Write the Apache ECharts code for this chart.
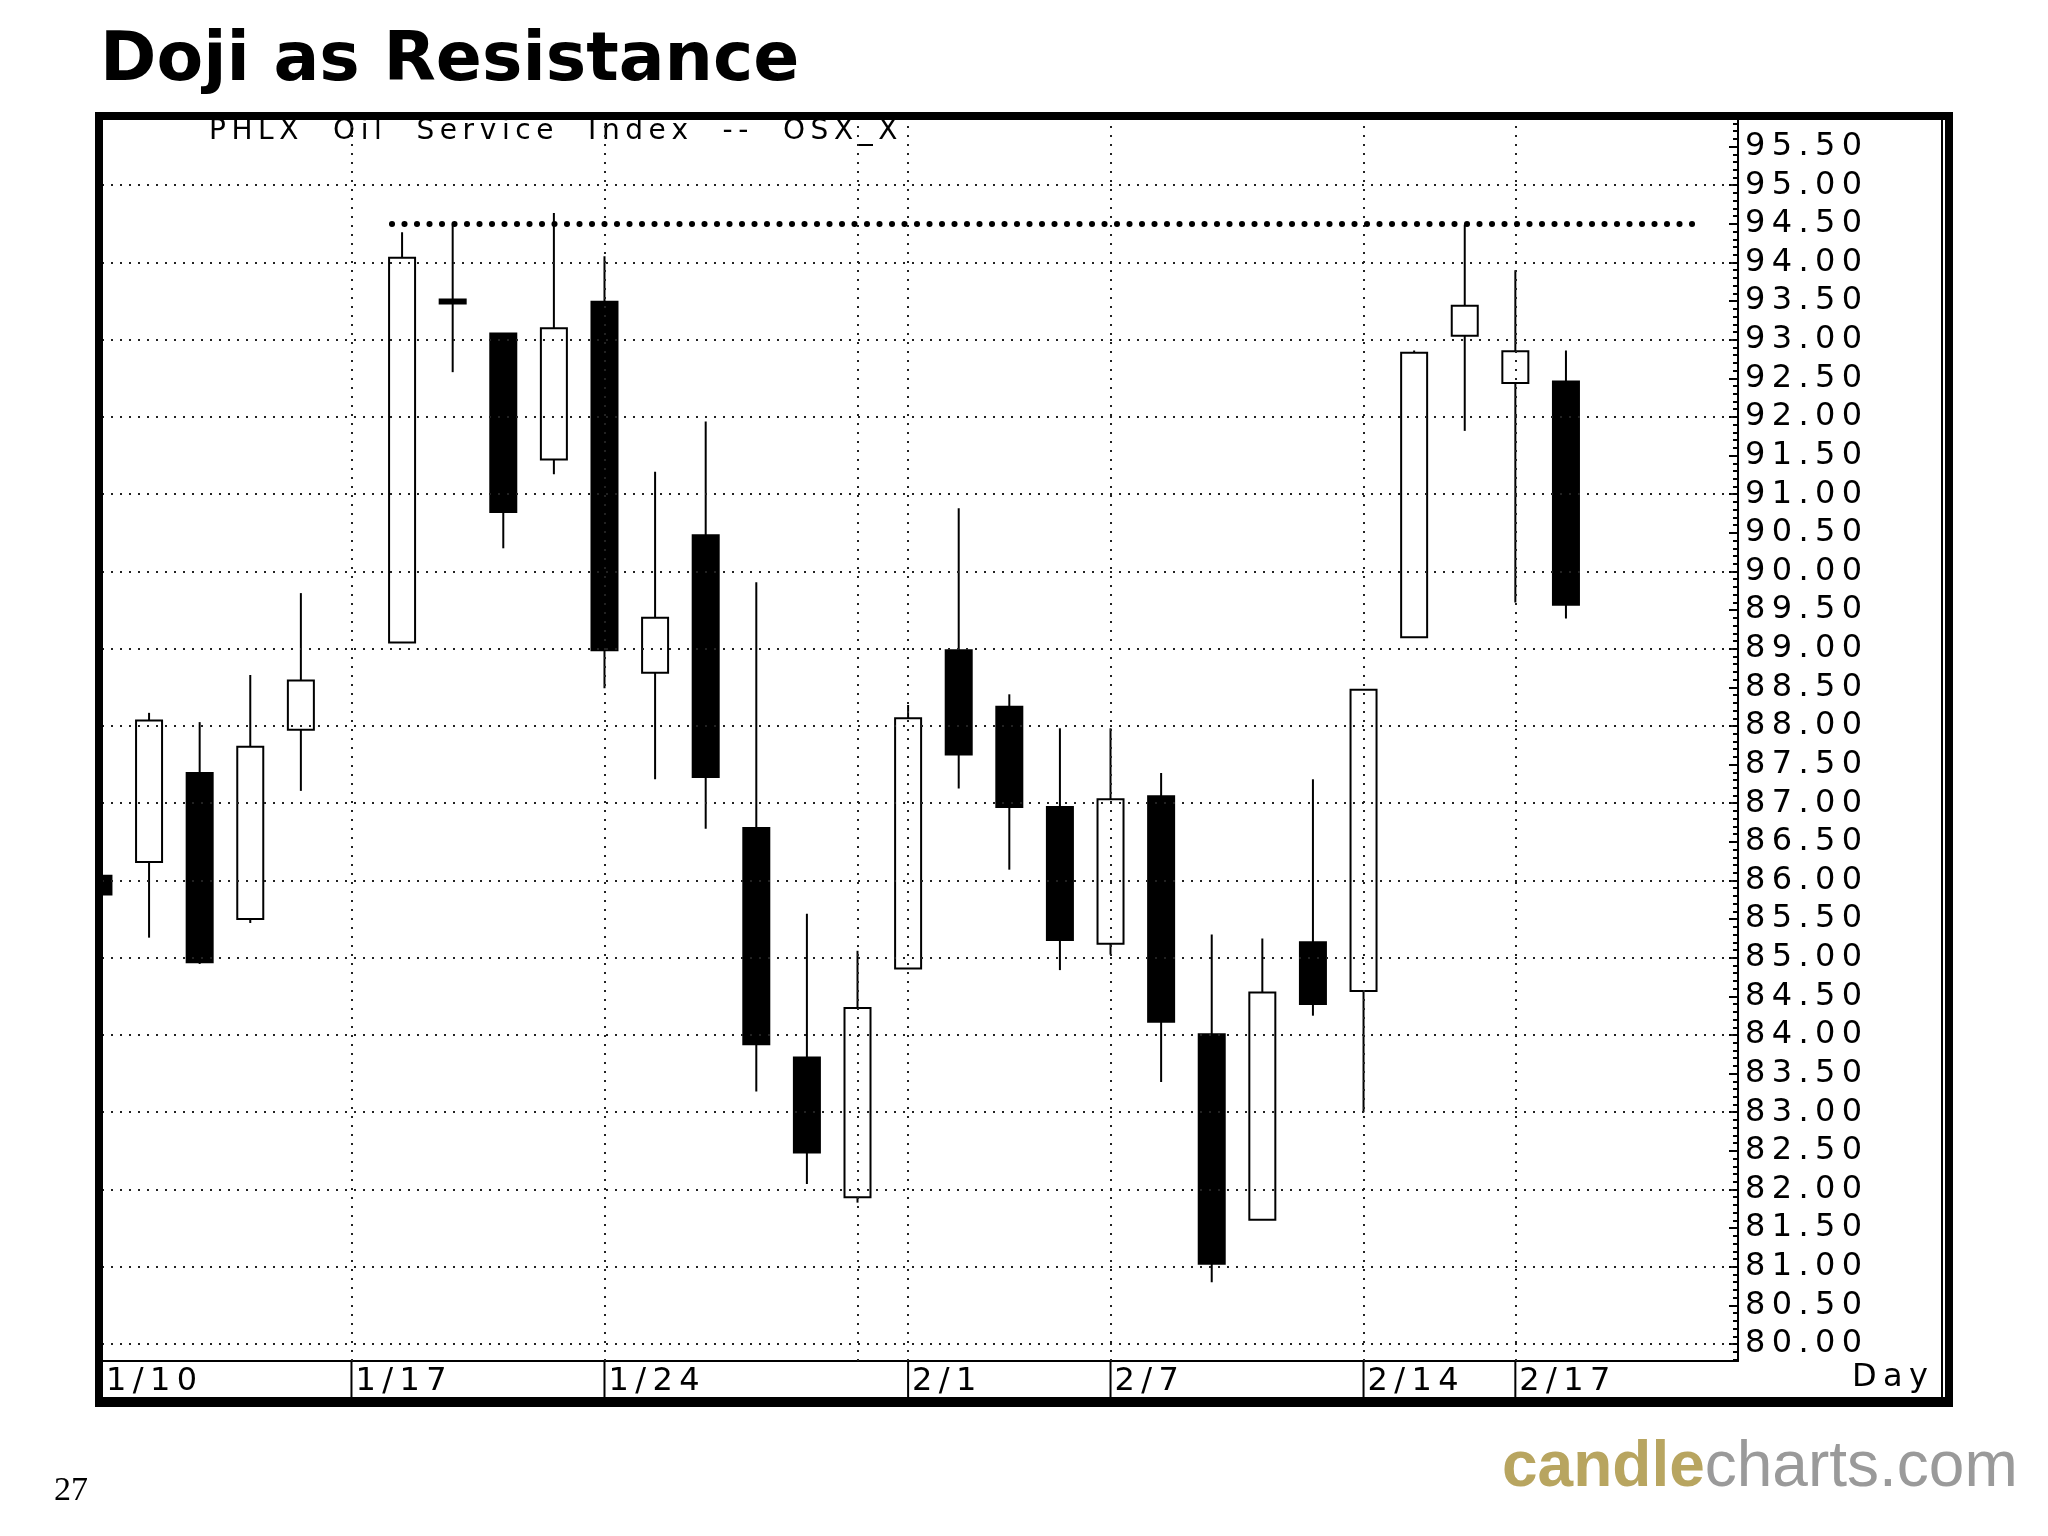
<!DOCTYPE html>
<html><head><meta charset="utf-8">
<script src="https://cdn.jsdelivr.net/npm/echarts@6/dist/echarts.min.js"></script>
<style>html,body{margin:0;padding:0;background:#fff}#c{width:2048px;height:1536px}</style>
</head><body><div id="c"></div>
<script>
// slot index, open, close, low, high
const slots  = [-1,0,1,2,3,5,6,7,8,9,10,11,12,13,14,15,16,17,18,19,20,21,22,23,24,25,26,27,28];
const opens  = [86.06,86.24,87.39,85.50,87.95,89.08,93.52,93.08,91.45,93.49,88.69,90.47,86.68,83.71,81.90,84.86,88.98,88.25,86.95,85.18,87.09,84.01,81.61,85.20,84.57,89.15,93.05,92.44,92.46];
const closes = [85.82,88.07,84.94,87.73,88.59,94.06,93.50,90.77,93.15,88.98,89.40,87.34,83.88,82.48,84.35,88.10,87.63,86.95,85.23,87.05,84.17,81.04,84.55,84.40,88.47,92.83,93.44,92.85,89.57];
const lows   = [85.82,85.26,84.92,85.45,87.16,89.08,92.58,90.30,91.26,88.49,87.31,86.67,83.27,82.07,81.83,84.86,87.19,86.14,84.84,85.04,83.39,80.80,81.61,84.25,83.00,89.15,91.82,89.60,89.39];
const highs  = [86.06,88.17,88.05,88.66,89.72,94.39,94.49,93.08,94.64,94.08,91.29,91.94,89.86,85.57,85.09,88.27,90.82,88.41,87.97,87.97,87.39,85.30,85.25,87.31,88.47,92.86,94.49,93.90,92.86];
const dateLabels = ['1/10','1/17','1/24','2/1','2/7','2/14','2/17'];
const dateSlots  = [-0.93,4,9,15,19,24,27];
const vGridSlots = [4,9,14,15,19,24,27];
const hGridValues = [80,81,82,83,84,85,86,87,88,89,90,91,92,93,94,95];
const resistance = 94.5;
const resistanceFrom = 4.8, resistanceTo = 30.53;
const xMin = -0.93, xMax = 31.4, yMin = 79.78, yMax = 95.87;

const sp = s => s.split('').join('\u2009');
const candleData = slots.map((s,i)=>[s,opens[i],closes[i],lows[i],highs[i]]);
const chart = echarts.init(document.getElementById('c'));
const FONT = 'DejaVu Sans';
chart.setOption({
  animation:false,
  backgroundColor:'#fff',
  grid:{left:102,right:310,top:118,height:1243},
  xAxis:{type:'value',min:xMin,max:xMax,axisLine:{show:true,onZero:false,lineStyle:{color:'#000',width:2}},
    axisTick:{show:false},axisLabel:{show:false},splitLine:{show:false}},
  yAxis:{type:'value',position:'right',min:yMin,max:yMax,splitNumber:32,
    axisLine:{show:true,onZero:false,lineStyle:{color:'#000',width:2}},
    axisTick:{show:true,inside:true,length:9,lineStyle:{color:'#000',width:2}},
    minorTick:{show:true,splitNumber:5,length:5,lineStyle:{color:'#000',width:2}},
    splitLine:{show:false},
    axisLabel:{margin:7,fontFamily:FONT,fontSize:32,color:'#000',
      formatter:v=>{const d=v*2;return (Math.abs(d-Math.round(d))<1e-6 && v>yMin+0.01 && v<yMax-0.01)?sp(v.toFixed(2)):'';}}},
  series:[
    {type:'line',data:[],silent:true,
      markLine:{silent:true,symbol:'none',label:{show:false},animation:false,
        lineStyle:{color:'#222',width:2,type:[2,7]},
        data:hGridValues.map(v=>({yAxis:v})).concat(vGridSlots.map(v=>({xAxis:v})))}},
    {type:'custom',data:candleData,clip:true,
      renderItem:(params,api)=>{
        const x=api.value(0),o=api.value(1),c=api.value(2),l=api.value(3),h=api.value(4);
        const pH=api.coord([x,h]),pL=api.coord([x,l]),pO=api.coord([x,o]),pC=api.coord([x,c]);
        const w=26,up=c>=o;
        const top=Math.min(pO[1],pC[1]),bh=Math.max(Math.abs(pO[1]-pC[1]),4);
        const cs=params.coordSys;
        return {type:'group',clipPath:{type:'rect',shape:{x:cs.x,y:cs.y,width:cs.width,height:cs.height}},children:[
          {type:'line',shape:{x1:pH[0],y1:pH[1],x2:pL[0],y2:pL[1]},style:{stroke:'#000',lineWidth:2}},
          {type:'rect',shape:{x:pO[0]-w/2,y:top,width:w,height:bh},style:{fill:up?'#fff':'#000',stroke:'#000',lineWidth:2}}
        ]};
      },
      markLine:{silent:true,symbol:'none',label:{show:false},
        lineStyle:{color:'#000',width:6,type:[0.1,12.4],cap:'round'},
        data:[[{coord:[resistanceFrom,resistance]},{coord:[resistanceTo,resistance]}]]}},
    {type:'custom',data:dateSlots.map((s,i)=>[s,i]),clip:false,silent:true,
      renderItem:(params,api)=>{
        const p=api.coord([api.value(0),yMin]);
        return {type:'group',children:[
          {type:'line',shape:{x1:p[0],y1:p[1],x2:p[0],y2:p[1]+37},style:{stroke:'#000',lineWidth:2}},
          {type:'text',x:p[0]+4,y:p[1]+21,style:{text:sp(dateLabels[api.value(1)]),fontFamily:FONT,fontSize:32,fill:'#000',verticalAlign:'middle'}}
        ]};
      }}
  ],
  graphic:[
    {type:'text',left:100,top:28,style:{text:'Doji as Resistance',fontFamily:FONT,fontWeight:'bold',fontSize:68,fill:'#000'}},
    {type:'text',left:209,top:118,style:{text:sp('PHLX  Oil  Service  Index  --  OSX_X'),fontFamily:FONT,fontSize:28,fill:'#000'}},
    {type:'rect',shape:{x:99,y:116,width:1850,height:1287},style:{fill:'none',stroke:'#000',lineWidth:8},z:10},
    {type:'line',shape:{x1:1942,y1:118,x2:1942,y2:1398},style:{stroke:'#000',lineWidth:2}},
    {type:'line',shape:{x1:102,y1:1398,x2:1945,y2:1398},style:{stroke:'#000',lineWidth:2}},
    {type:'text',left:1852,top:1362,style:{text:sp('Day'),fontFamily:FONT,fontSize:32,fill:'#000'}},
    {type:'text',left:54,top:1474,style:{text:'27',fontFamily:'Liberation Serif',fontSize:34,fill:'#000'}},
    {type:'text',left:1502,top:1436,style:{rich:{a:{fontFamily:'Liberation Sans',fontSize:64,fill:'#b8a560',fontWeight:'bold'},
      b:{fontFamily:'Liberation Sans',fontSize:64,fill:'#9a9a9a'}},text:'{a|candle}{b|charts.com}'}}
  ]
});
</script></body></html>
